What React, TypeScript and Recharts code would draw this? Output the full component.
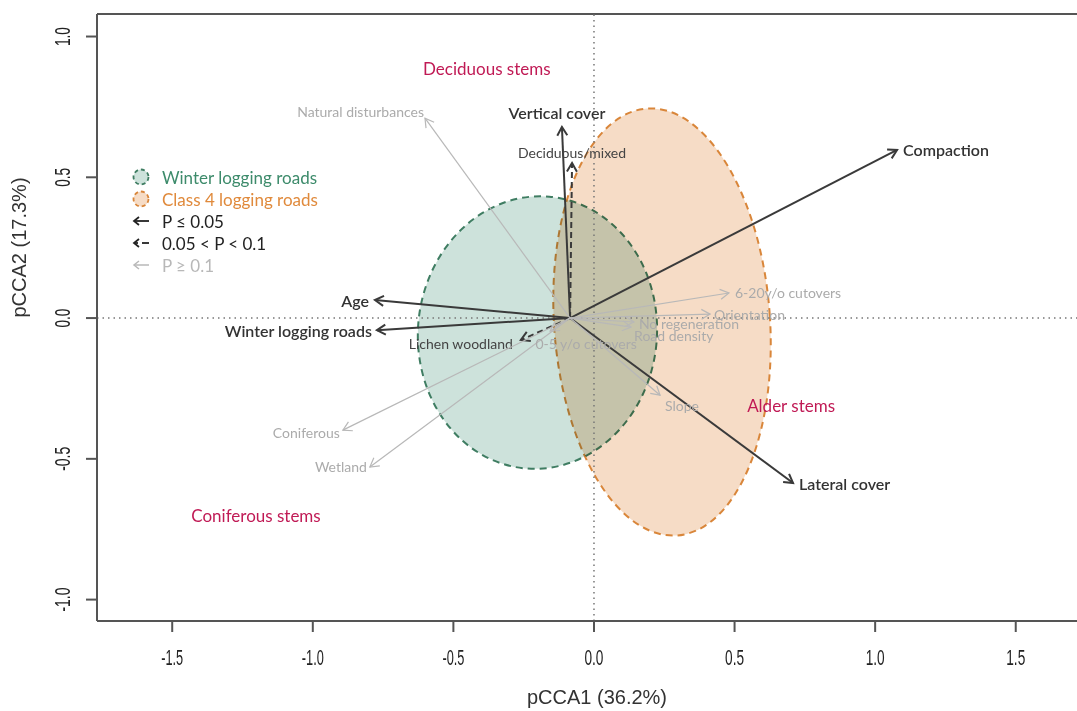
import React from 'react';
import { ScatterChart, Scatter, XAxis, YAxis, ReferenceLine, ReferenceArea } from 'recharts';

// axis ticks
const xTicks = [-1.5, -1, -0.5, 0, 0.5, 1, 1.5];
const yTicks = [-1, -0.5, 0, 0.5, 1];

// common start of all vectors
const vectorOrigin = { x: -0.085, y: 0 };

// environmental vectors: sig = 'high' (P <= 0.05), 'mid' (0.05 < P < 0.1), 'low' (P >= 0.1)
const vectors = [
  { name: 'Compaction', x: 1.078, y: 0.597, sig: 'high' },
  { name: 'Vertical cover', x: -0.114, y: 0.679, sig: 'high' },
  { name: 'Age', x: -0.779, y: 0.064, sig: 'high' },
  { name: 'Winter logging roads', x: -0.772, y: -0.043, sig: 'high' },
  { name: 'Lateral cover', x: 0.708, y: -0.586, sig: 'high' },
  { name: 'Deciduous/mixed', x: -0.078, y: 0.551, sig: 'mid' },
  { name: 'Lichen woodland', x: -0.26, y: -0.078, sig: 'mid' },
  { name: 'Natural disturbances', x: -0.601, y: 0.71, sig: 'low' },
  { name: 'Coniferous', x: -0.893, y: -0.398, sig: 'low' },
  { name: 'Wetland', x: -0.797, y: -0.529, sig: 'low' },
  { name: '6-20y/o cutovers', x: 0.48, y: 0.089, sig: 'low' },
  { name: 'Orientation', x: 0.413, y: 0.014, sig: 'low' },
  { name: 'No regeneration', x: 0.142, y: -0.014, sig: 'low' },
  { name: 'Road density', x: 0.132, y: -0.032, sig: 'low' },
  { name: '0-5 y/o cutovers', x: -0.156, y: -0.046, sig: 'low' },
  { name: 'Slope', x: 0.235, y: -0.274, sig: 'low' },
];

// response groups (stem density), placed in ordination space
const stemLabels = [
  { name: 'Deciduous stems', x: -0.381, y: 0.888 },
  { name: 'Alder stems', x: 0.701, y: -0.309 },
  { name: 'Coniferous stems', x: -1.202, y: -0.703 },
];

// dispersion ellipses (extent on each axis)
const groupEllipses = [
  { name: 'Winter logging roads', x1: -0.626, x2: 0.224, y1: 0.433, y2: -0.536 },
  { name: 'Class 4 logging roads', x1: -0.142, x2: 0.626, y1: 0.746, y2: -0.774 },
];

const FONT = "Lato, 'Open Sans', sans-serif";
const NARROW = "'Liberation Sans Narrow', 'Liberation Sans', Arial, sans-serif";
const CRIMSON = '#c01a55';

const ellipseStyle: Record<string, any> = {
  'Winter logging roads': { fill: '#cde2db', stroke: '#3f7d62', rotate: 5, blend: 'normal' },
  'Class 4 logging roads': { fill: '#f6dcc6', stroke: '#d9863a', rotate: -4, blend: 'multiply' },
};

const sigStyle: Record<string, any> = {
  high: { stroke: '#3a3a3a', width: 2, dash: undefined, text: '#333', size: 16, weight: 600 },
  mid: { stroke: '#3a3a3a', width: 2, dash: '6 4', text: '#444', size: 14, weight: 400 },
  low: { stroke: '#b8b8b8', width: 1.2, dash: undefined, text: '#ababab', size: 14, weight: 400 },
};

// where each label sits relative to the arrow tip
const labelPlace: Record<string, { dx: number; dy: number; anchor: string }> = {
  'Compaction': { dx: 6, dy: 0, anchor: 'start' },
  'Vertical cover': { dx: -5, dy: -14, anchor: 'middle' },
  'Age': { dx: -6, dy: 0, anchor: 'end' },
  'Winter logging roads': { dx: -5, dy: 0, anchor: 'end' },
  'Lateral cover': { dx: 6, dy: 0, anchor: 'start' },
  'Deciduous/mixed': { dx: 0, dy: -10, anchor: 'middle' },
  'Lichen woodland': { dx: -8, dy: 3, anchor: 'end' },
  'Natural disturbances': { dx: -1, dy: -7, anchor: 'end' },
  'Coniferous': { dx: -3, dy: 2, anchor: 'end' },
  'Wetland': { dx: -3, dy: 0, anchor: 'end' },
  '6-20y/o cutovers': { dx: 6, dy: -1, anchor: 'start' },
  'Orientation': { dx: 4, dy: 0, anchor: 'start' },
  'No regeneration': { dx: 5, dy: 1, anchor: 'start' },
  'Road density': { dx: 3, dy: 8, anchor: 'start' },
  '0-5 y/o cutovers': { dx: 36, dy: 12, anchor: 'middle' },
  'Slope': { dx: 5, dy: 10, anchor: 'start' },
};

const makeArrowShape = (name: string, sig: string) => (props: any) => {
  const { x1, y1, x2, y2 } = props;
  const st = sigStyle[sig];
  const lp = labelPlace[name];
  const ang = Math.atan2(y2 - y1, x2 - x1);
  const hl = 10;
  const ha = Math.PI / 6;
  const ax = x2 - hl * Math.cos(ang - ha);
  const ay = y2 - hl * Math.sin(ang - ha);
  const bx = x2 - hl * Math.cos(ang + ha);
  const by = y2 - hl * Math.sin(ang + ha);
  return (
    <g>
      <line x1={x1} y1={y1} x2={x2} y2={y2} stroke={st.stroke} strokeWidth={st.width} strokeDasharray={st.dash} />
      <polyline points={`${ax},${ay} ${x2},${y2} ${bx},${by}`} fill="none" stroke={st.stroke} strokeWidth={st.width} />
      <text
        x={x2 + lp.dx}
        y={y2 + lp.dy}
        textAnchor={lp.anchor as any}
        dominantBaseline="central"
        fill={st.text}
        fontSize={st.size}
        fontWeight={st.weight}
        fontFamily={FONT}
      >
        {name}
      </text>
    </g>
  );
};

const makeEllipseShape = (name: string) => (props: any) => {
  const { x, y, width, height } = props;
  const st = ellipseStyle[name];
  const cx = x + width / 2;
  const cy = y + height / 2;
  return (
    <ellipse
      cx={cx}
      cy={cy}
      rx={width / 2}
      ry={height / 2}
      transform={`rotate(${st.rotate} ${cx} ${cy})`}
      fill={st.fill}
      stroke={st.stroke}
      strokeWidth={2}
      strokeDasharray="7 5"
      style={{ mixBlendMode: st.blend }}
    />
  );
};

const StemLabel = (props: any) => (
  <text x={props.cx} y={props.cy} textAnchor="middle" dominantBaseline="central" fill={CRIMSON} fontSize={17} fontFamily={FONT}>
    {props.payload.name}
  </text>
);

const XTick = ({ x, y, payload }: any) => {
  const s = payload.value.toFixed(1);
  return (
    <text x={x} y={y + 16} textAnchor="middle" fill="#222" fontSize={22} fontFamily={NARROW} textLength={s.length > 3 ? 22 : 19} lengthAdjust="spacingAndGlyphs">
      {s}
    </text>
  );
};

const YTick = ({ x, y, payload }: any) => {
  const s = payload.value.toFixed(1);
  return (
    <text x={x} y={y} transform={`rotate(-90, ${x}, ${y})`} textAnchor="middle" fill="#222" fontSize={22} fontFamily={NARROW} textLength={s.length > 3 ? 24 : 19} lengthAdjust="spacingAndGlyphs">
      {s}
    </text>
  );
};

const LegendBox = () => {
  const row = (i: number) => 11 + i * 22;
  return (
    <svg width={260} height={130} style={{ position: 'absolute', left: 125, top: 166 }}>
      <circle cx={16} cy={row(0)} r={7.5} fill="#cde2db" stroke="#3f7d62" strokeWidth={1.8} strokeDasharray="4 3" />
      <text x={37} y={row(0)} dominantBaseline="central" fontSize={17} fill="#3d8b6b" fontFamily={FONT}>Winter logging roads</text>
      <circle cx={16} cy={row(1)} r={7.5} fill="#f6dcc6" stroke="#d9863a" strokeWidth={1.8} strokeDasharray="4 3" />
      <text x={37} y={row(1)} dominantBaseline="central" fontSize={17} fill="#e08a3c" fontFamily={FONT}>Class 4 logging roads</text>
      <g stroke="#222" strokeWidth={1.8} fill="none">
        <line x1={9} y1={row(2)} x2={24} y2={row(2)} />
        <polyline points={`${14},${row(2) - 4} ${9},${row(2)} ${14},${row(2) + 4}`} />
        <line x1={9} y1={row(3)} x2={13} y2={row(3)} />
        <line x1={17} y1={row(3)} x2={24} y2={row(3)} />
        <polyline points={`${14},${row(3) - 4} ${9},${row(3)} ${14},${row(3) + 4}`} />
      </g>
      <g stroke="#b8b8b8" strokeWidth={1.5} fill="none">
        <line x1={9} y1={row(4)} x2={24} y2={row(4)} />
        <polyline points={`${14},${row(4) - 4} ${9},${row(4)} ${14},${row(4) + 4}`} />
      </g>
      <text x={37} y={row(2)} dominantBaseline="central" fontSize={17} fill="#222" fontFamily={FONT}>P ≤ 0.05</text>
      <text x={37} y={row(3)} dominantBaseline="central" fontSize={17} fill="#222" fontFamily={FONT}>0.05 &lt; P &lt; 0.1</text>
      <text x={37} y={row(4)} dominantBaseline="central" fontSize={17} fill="#b8b8b8" fontFamily={FONT}>P ≥ 0.1</text>
    </svg>
  );
};

export default function App() {
  const xDomain = [-1.7675, 1.789];
  const yDomain = [-1.076, 1.08];
  return (
    <div style={{ position: 'absolute', left: 0, top: 0, width: 1077, height: 711, overflow: 'hidden', background: '#fff' }}>
      <ScatterChart width={1100} height={711} margin={{ top: 14, right: 3, bottom: 0, left: 0 }}>
        <XAxis
          type="number"
          dataKey="x"
          domain={xDomain}
          ticks={xTicks}
          allowDataOverflow
          height={90}
          tickSize={11}
          tickMargin={17}
          tick={<XTick />}
          stroke="#555"
          strokeWidth={2}
          label={{ value: 'pCCA1 (36.2%)', position: 'insideBottom', offset: 7, fill: '#333', fontSize: 20, fontFamily: NARROW }}
        />
        <YAxis
          type="number"
          dataKey="y"
          domain={yDomain}
          ticks={yTicks}
          allowDataOverflow
          width={97}
          tickSize={11}
          tickMargin={16}
          tick={<YTick />}
          stroke="#555"
          strokeWidth={2}
          label={{ value: 'pCCA2 (17.3%)', angle: -90, position: 'insideLeft', offset: 19, fill: '#333', fontSize: 20, fontFamily: NARROW }}
        />
        {groupEllipses.map((g) => (
          <ReferenceArea key={g.name} x1={g.x1} x2={g.x2} y1={g.y1} y2={g.y2} shape={makeEllipseShape(g.name)} />
        ))}
        <ReferenceLine y={yDomain[1]} stroke="#555" strokeWidth={2} />
        <ReferenceLine x={0} stroke="#777" strokeWidth={1.5} strokeDasharray="1.5 4" />
        <ReferenceLine y={0} stroke="#777" strokeWidth={1.5} strokeDasharray="1.5 4" />
        {vectors.map((v) => (
          <ReferenceLine
            key={v.name}
            segment={[vectorOrigin, { x: v.x, y: v.y }]}
            shape={makeArrowShape(v.name, v.sig)}
          />
        ))}
        <Scatter data={stemLabels} shape={<StemLabel />} isAnimationActive={false} />
      </ScatterChart>
      <LegendBox />
    </div>
  );
}
